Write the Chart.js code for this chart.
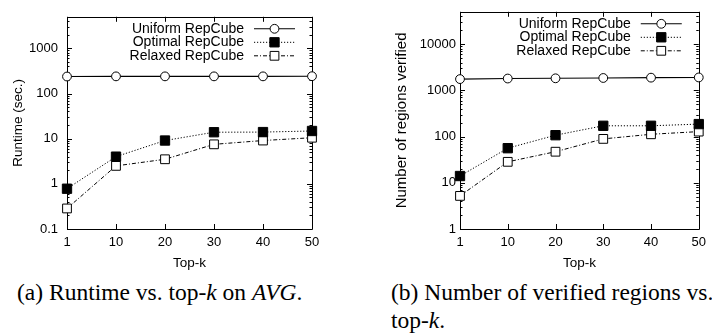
<!DOCTYPE html>
<html><head><meta charset="utf-8">
<script src="https://cdn.jsdelivr.net/npm/chart.js@4.4.1/dist/chart.umd.min.js"></script>
<style>
html,body{margin:0;padding:0;background:#fff;width:712px;height:333px;overflow:hidden;}
.wrap{position:absolute;top:0;width:356px;height:271px;}
canvas{display:block;}
.cap{position:absolute;font-family:"Liberation Serif","Times New Roman",serif;font-size:23.5px;color:#000;white-space:nowrap;line-height:28px;}
</style></head><body>
<div class="wrap" style="left:0"><canvas id="c1" width="356" height="271"></canvas></div>
<div class="wrap" style="left:356px"><canvas id="c2" width="356" height="271"></canvas></div>
<div class="cap" style="left:17px;top:278px">(a) Runtime vs. top-<i>k</i> on <i>AVG</i>.</div>
<div class="cap" style="left:391px;top:278px">(b) Number of verified regions vs.<br>top-<i>k</i>.</div>
<script>
const topK = ['1','10','20','30','40','50'];
const seriesNames = ['Uniform RepCube','Optimal RepCube','Relaxed RepCube'];
const runtimeUniform = [238,240,240,240,240,242];
const runtimeOptimal = [0.78,4.0,9.1,13.9,14.0,14.8];
const runtimeRelaxed = [0.285,2.5,3.5,7.5,9.1,10.5];
const regionsUniform = [1750,1800,1820,1850,1880,1900];
const regionsOptimal = [14,56,107,171,171,186];
const regionsRelaxed = [5.2,28.4,47,89,112,128];
const runtimeTicks = [0.1,1,10,100,1000];
const regionsTicks = [1,10,100,1000,10000];

const FAM = '"Liberation Sans", Arial, Helvetica, sans-serif';
const FONT = {family: FAM, size: 13};
const LEGEND_SIZE = 14;

function drawMarker(ctx, ds, x, y){
  ctx.save();
  ctx.setLineDash([]);
  ctx.fillStyle = ds.pointBackgroundColor;
  ctx.strokeStyle = ds.pointBorderColor;
  ctx.lineWidth = ds.pointBorderWidth;
  if (Chart.helpers && Chart.helpers.drawPoint) {
    Chart.helpers.drawPoint(ctx, {pointStyle: ds.pointStyle, radius: ds.pointRadius, borderWidth: ds.pointBorderWidth, rotation: 0}, x, y);
  } else {
    ctx.beginPath();
    if (ds.pointStyle === 'circle') ctx.arc(x, y, ds.pointRadius, 0, Math.PI*2);
    else { const s = Math.SQRT1_2*ds.pointRadius; ctx.rect(x-s, y-s, 2*s, 2*s); }
    ctx.fill(); ctx.stroke();
  }
  ctx.restore();
}

const framePlugin = {
  id: 'frameTicks',
  beforeDatasetsDraw(chart) {
    const {ctx, chartArea: a, scales} = chart;
    ctx.save();
    ctx.strokeStyle = '#000';
    ctx.lineWidth = 1;
    ctx.beginPath();
    ctx.rect(Math.round(a.left)+0.5, Math.round(a.top)+0.5, Math.round(a.right-a.left), Math.round(a.bottom-a.top));
    ctx.stroke();
    ctx.beginPath();
    const xs = scales.x, ys = scales.y;
    xs.ticks.forEach((t, i) => {
      const px = Math.round(xs.getPixelForTick(i)) + 0.5;
      ctx.moveTo(px, a.bottom); ctx.lineTo(px, a.bottom - 5);
      ctx.moveTo(px, a.top); ctx.lineTo(px, a.top + 5);
    });
    const lo = Math.log10(ys.min), hi = Math.log10(ys.max);
    for (let e = Math.floor(lo); e <= Math.ceil(hi); e++) {
      for (let m = 1; m <= 9; m++) {
        const v = m * Math.pow(10, e);
        if (v < ys.min * 0.999 || v > ys.max * 1.001) continue;
        const py = Math.round(ys.getPixelForValue(v)) + 0.5;
        const len = m === 1 ? 5 : 2.5;
        ctx.moveTo(a.left, py); ctx.lineTo(a.left + len, py);
        ctx.moveTo(a.right, py); ctx.lineTo(a.right - len, py);
      }
    }
    ctx.stroke();
    ctx.restore();
  },
  afterDatasetsDraw(chart) {
    const {ctx, chartArea: a} = chart;
    chart.data.datasets.forEach((ds, i) => {
      const y = a.top + 12 + i * 13.5;
      ctx.save();
      ctx.font = LEGEND_SIZE + 'px ' + FAM;
      ctx.textAlign = 'right';
      ctx.textBaseline = 'middle';
      ctx.fillStyle = '#000';
      ctx.fillText(ds.label, a.right - 68, y);
      ctx.strokeStyle = ds.borderColor;
      ctx.lineWidth = ds.borderWidth;
      ctx.setLineDash(ds.borderDash || []);
      ctx.beginPath();
      ctx.moveTo(a.right - 58, y);
      ctx.lineTo(a.right - 17, y);
      ctx.stroke();
      ctx.restore();
      drawMarker(ctx, ds, a.right - 37.5, y);
    });
  }
};

function makeDatasets(u, o, r) {
  return [
    {label: seriesNames[0], data: u, borderColor:'#000', borderWidth:1.1, borderDash:[],
     pointStyle:'circle', pointRadius:4.4, pointBorderWidth:1, pointBackgroundColor:'#fff', pointBorderColor:'#000', clip:false},
    {label: seriesNames[1], data: o, borderColor:'#000', borderWidth:1, borderDash:[1.2,1.8],
     pointStyle:'rect', pointRadius:6.6, pointBorderWidth:1, pointBackgroundColor:'#000', pointBorderColor:'#000', clip:false},
    {label: seriesNames[2], data: r, borderColor:'#000', borderWidth:1, borderDash:[4,2,1,2],
     pointStyle:'rect', pointRadius:6.2, pointBorderWidth:1, pointBackgroundColor:'#fff', pointBorderColor:'#000', clip:false}
  ];
}

function makeChart(id, cfg) {
  return new Chart(document.getElementById(id), {
    type: 'line',
    data: {labels: topK, datasets: makeDatasets(cfg.u, cfg.o, cfg.r)},
    options: {
      responsive: false, animation: false, devicePixelRatio: 1,
      layout: {padding: {left: 0, top: 8, right: cfg.padRight, bottom: 0}},
      plugins: {legend: {display: false}, tooltip: {enabled: false}},
      elements: {line: {tension: 0}},
      scales: {
        x: {type: 'category', offset: false,
            grid: {display: false, drawTicks: false}, border: {display: false},
            ticks: {color: '#000', font: FONT, padding: 6, maxRotation: 0, autoSkip: false},
            title: {display: true, text: 'Top-k', color: '#000', font: {family: FAM, size: 13.5}, padding: {top: 0, bottom: 0}},
            afterFit: s => { s.height = 42; }},
        y: {type: 'logarithmic', min: cfg.yTicks[0], max: cfg.yMax,
            grid: {display: false, drawTicks: false}, border: {display: false},
            ticks: {color: '#000', font: FONT, padding: cfg.tickPad, autoSkip: false,
                    callback: v => String(v)},
            afterBuildTicks: s => { s.ticks = cfg.yTicks.map(v => ({value: v})); },
            title: {display: true, text: cfg.yTitle, color: '#000', font: {family: FAM, size: cfg.titleSize}, padding: {top: cfg.titlePad, bottom: 0}},
            afterFit: s => { s.width = cfg.yWidth; }}
      }
    },
    plugins: [framePlugin]
  });
}

makeChart('c1', {u: runtimeUniform, o: runtimeOptimal, r: runtimeRelaxed, yTicks: runtimeTicks, yMax: 5000,
  yTitle: 'Runtime (sec.)', yWidth: 67, tickPad: 9, titlePad: 10, titleSize: 13.5, padRight: 44});
makeChart('c2', {u: regionsUniform, o: regionsOptimal, r: regionsRelaxed, yTicks: regionsTicks, yMax: 50000,
  yTitle: 'Number of regions verified', yWidth: 104, tickPad: 4, titlePad: 37, titleSize: 15, padRight: 7});
</script>
</body></html>
